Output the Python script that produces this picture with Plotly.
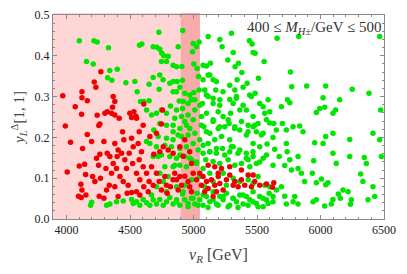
import plotly.graph_objects as go

# ---- data (v_R in GeV, y_L^Delta[1,1]) ----
red_x = [3970,3990,4031,4005,4068,4094,4115,4121,4121,4163,4118,4126,4163,4100,4142,4113,4121,4150,4152,
         4270,4218,4231,4241,4254,4262,4205,4223,4236,4252,4267,4257,4294,4262,4197,
         4302,4320,4354,4380,4367,4380,4362,4414,4294,4320,4341,4380,4406,4398,4367,4310,4354,4393,4420,
         4336,4380,4315,4406,4441,4451,4433,4459,4472,4446,4485,4477,4512,4498,4530,4512,4546,4512,4525,
         4493,4520,
         4551,4608,4603,4572,4564,4590,4572,4603,4630,4551,4577,4608,4551,4577,4643,4650,4669,4687,4656,
         4708,4755,4747,4761,4734,4708,4729,4747,4682,4774,4787,4792,4818,4839,4852,4866,4892,4905,4879,
         4931,4957,4970,4997,5023,4984,4800,4839,4892,4931,4970,4918,4984,
         5049,5075,5102,5062,5115,5141,5167,5194,5180,5207,5233,5220,5259,5285,5312,5325,5351,5377,5403,
         5430,5456,5482,5521,5574,5632,5621,5167,5115,5194,5285,5088,5154,5377,5469]
red_y = [0.302,0.228,0.188,0.115,0.275,0.056,0.053,0.312,0.297,0.290,0.257,0.173,0.207,0.130,0.134,0.085,0.071,0.109,0.059,
         0.361,0.336,0.323,0.254,0.229,0.233,0.104,0.092,0.149,0.132,0.100,0.056,0.051,0.159,0.190,
         0.259,0.263,0.259,0.255,0.300,0.288,0.274,0.247,0.190,0.161,0.153,0.185,0.169,0.153,0.136,0.124,0.112,0.124,0.104,
         0.083,0.079,0.071,0.055,0.214,0.194,0.161,0.145,0.124,0.092,0.083,0.063,0.065,0.259,0.263,0.249,0.252,0.198,0.177,
         0.161,0.136,
         0.247,0.282,0.230,0.214,0.185,0.165,0.145,0.128,0.112,0.112,0.096,0.079,0.067,0.059,0.067,0.092,0.128,0.159,0.202,
         0.210,0.267,0.233,0.177,0.165,0.112,0.092,0.071,0.083,0.104,0.083,0.063,0.079,0.096,0.112,0.096,0.104,0.083,0.071,
         0.105,0.092,0.079,0.112,0.096,0.067,0.169,0.161,0.177,0.194,0.165,0.154,0.136,
         0.112,0.104,0.092,0.083,0.075,0.096,0.083,0.104,0.067,0.087,0.071,0.124,0.096,0.108,0.083,0.092,0.079,0.096,0.083,
         0.108,0.079,0.092,0.083,0.086,0.089,0.078,0.128,0.132,0.112,0.128,0.067,0.055,0.120,0.108]

green_x = [4100,4215,4241,4157,4210,4330,4340,4399,4323,4357,4467,4538,4574,4593,4556,4582,4608,4650,
           4682,4711,4734,4750,4766,4727,4787,4747,4800,4682,4734,4650,4729,4760,4839,4866,4879,4915,4871,
           4887,4908,4997,5023,5044,4992,5002,4913,5028,5039,5002,5010,5044,5075,5102,5115,5133,5207,5225,
           5270,5298,5312,5327,5354,5380,5440,5461,5469,5485,5511,5556,5658,5773,5763,5739,5758,5828,5891,
           6020,6033,6041,6151,6250,6382,6466,6474,6466,6413,6479,6345,6361,6316,6334,6413,6427,6374,6230,
           6217,6236,6177,6140,6156,6059,6041,6007,5967,5936,5946,5954,6020,6041,6098,6098,6124,6230,6119,
           6098,5994,5967,5836,5862,5784,5731,5700,5692,5731,5737,5758,5823,5849,5875,5823,5771,5718,5674,
           5639,5626,5632,5574,5561,5600,5548,5587,5521,5485,5456,5422,5390,5343,5325,5285,5291,5312,5338,
           5364,5416,5469,5430,5469,5508,5495,5548,5579,5521,5469,5416,5364,5325,5280,5246,5233,5194,5207,
           5175,5154,5115,5075,5088,5115,5154,5070,5102,5062,5154,5194,5128,5081,5049,5115,5167,5220,5285,
           5312,5364,5416,5469,5285,5228,5180,5128,5075,5036,5096,5154,5207,5272,5325,5377,5443,5495,5548,5430,
           4813,4839,4892,4931,4957,4984,4913,4866,4818,4787,4747,4708,4669,4630,4852,4905,4957,5010,4997,
           4944,4892,4839,4787,4734,4687,4721,4787,4839,4905,4957,5010,4997,4944,4892,4826,4774,4708,4656,
           4630,4682,4747,4813,4866,4931,4984,5023,4944,4892,4839,4774,4721,
           4189,4197,4315,4341,4393,4446,4512,4525,4551,4577,4603,4630,4656,4682,4708,4734,4761,4787,4813,
           4839,4866,4892,4913,4931,4957,4984,5010,5028,5049,5075,5102,5128,5154,5180,5207,5233,5259,5285,
           5312,5338,5364,5390,5416,5443,5469,5495,5521,5548,5574,5595,5626,5718,5731,5784,5797,5823,5941,
           5967,6033,6085,6098,6243,
           5088,5154,5259,5364,5469,5561,5653,5692,5600,5508,5430,5312,5233,5128,5049,4984,4931,4866,4787,
           4708,4669,4734,4800,4761,
           4839,4878,4931,4970,5062,5102,5154,5206,5272,5324,5377,5429,5482,5534,5600,5652,
           5075,5128,5180,5246,5298,5350,5416,5468,5521,5574,5626,5023,4970,4892,4852,5075,
           4918,4996,5075,5154,5232,5311,5390,5468,5547,5626,4866,4957,5035,5114,5193,5272,5350,5429,5508,5587,
           5128,5180,5232,5285,5337,5390,5442,5206,5154,5101,5049,4970,4918,4866,4839]
green_y = [0.437,0.437,0.434,0.386,0.380,0.420,0.364,0.367,0.346,0.340,0.334,0.337,0.426,0.429,0.312,0.288,0.288,0.290,
           0.422,0.421,0.416,0.406,0.400,0.458,0.386,0.386,0.399,0.347,0.353,0.330,0.318,0.341,0.377,0.373,0.422,0.462,0.337,
           0.289,0.374,0.430,0.422,0.434,0.410,0.380,0.340,0.369,0.349,0.310,0.292,0.316,0.377,0.375,0.447,0.382,0.440,0.422,
           0.390,0.455,0.408,0.373,0.382,0.359,0.437,0.429,0.408,0.406,0.345,0.386,0.443,0.324,0.360,0.292,0.285,0.447,0.326,
           0.297,0.274,0.326,0.292,0.318,0.308,0.447,0.267,0.194,0.210,0.153,0.151,0.136,0.110,0.092,0.079,0.055,0.047,0.153,
           0.067,0.036,0.071,0.061,0.051,0.089,0.084,0.098,0.089,0.112,0.143,0.187,0.185,0.202,0.210,0.161,0.136,0.195,0.267,
           0.259,0.271,0.261,0.228,0.214,0.226,0.218,0.234,0.275,0.185,0.165,0.145,0.124,0.112,0.092,0.153,0.120,0.131,0.153,
           0.171,0.200,0.234,0.243,0.259,0.263,0.275,0.292,0.283,0.308,0.300,0.333,0.323,0.341,0.316,0.293,0.259,0.283,0.300,
           0.267,0.267,0.251,0.230,0.226,0.234,0.214,0.210,0.184,0.177,0.185,0.206,0.218,0.226,0.234,0.226,0.251,0.263,0.292,
           0.316,0.341,0.353,0.341,0.316,0.300,0.283,0.283,0.259,0.251,0.243,0.222,0.210,0.226,0.194,0.185,0.194,0.202,0.194,
           0.177,0.169,0.161,0.153,0.165,0.173,0.161,0.165,0.161,0.169,0.145,0.141,0.136,0.145,0.132,0.136,0.128,0.136,0.149,0.145,
           0.333,0.312,0.323,0.308,0.283,0.292,0.271,0.267,0.277,0.259,0.267,0.259,0.255,0.267,0.247,0.251,0.255,0.267,0.243,
           0.230,0.222,0.214,0.230,0.234,0.218,0.202,0.198,0.194,0.202,0.206,0.210,0.185,0.177,0.173,0.177,0.181,0.177,0.185,
           0.190,0.153,0.157,0.153,0.149,0.153,0.145,0.136,0.128,0.132,0.128,0.128,0.153,
           0.034,0.041,0.034,0.037,0.042,0.044,0.048,0.038,0.042,0.034,0.048,0.040,0.034,0.047,0.037,0.048,0.034,0.042,0.053,
           0.037,0.047,0.034,0.061,0.047,0.038,0.051,0.037,0.063,0.047,0.034,0.055,0.042,0.067,0.037,0.055,0.047,0.063,0.034,
           0.051,0.042,0.059,0.037,0.055,0.047,0.067,0.038,0.055,0.030,0.047,0.063,0.042,0.056,0.037,0.042,0.055,0.037,0.042,
           0.047,0.032,0.037,0.048,0.047,
           0.079,0.092,0.083,0.092,0.087,0.083,0.071,0.079,0.079,0.104,0.096,0.100,0.112,0.112,0.104,0.096,0.083,0.079,0.067,
           0.079,0.059,0.112,0.104,0.092,
           0.230,0.206,0.239,0.222,0.230,0.214,0.239,0.226,0.243,0.222,0.239,0.214,0.230,0.206,0.235,0.218,
           0.181,0.165,0.173,0.157,0.177,0.161,0.149,0.165,0.140,0.157,0.132,0.140,0.149,0.157,0.132,0.124,
           0.067,0.051,0.059,0.047,0.055,0.051,0.059,0.042,0.051,0.055,0.042,0.030,0.034,0.028,0.034,0.030,0.028,0.034,0.030,0.038,
           0.353,0.337,0.312,0.328,0.296,0.279,0.304,0.279,0.296,0.304,0.279,0.304,0.288,0.312,0.337]

x_ticks = [4000, 4500, 5000, 5500, 6000, 6500]
y_ticks = [0.0, 0.1, 0.2, 0.3, 0.4, 0.5]
x_range = [3893, 6500]
y_range = [0.0, 0.5]
light_band = [3893, 5050]
dark_band = [4900, 5050]

FONT = "Liberation Serif, Times New Roman, serif"

fig = go.Figure()
fig.add_trace(go.Scatter(x=green_x, y=green_y, mode="markers",
                         marker=dict(color="#00e600", size=5.5, line=dict(width=0)),
                         showlegend=False, hoverinfo="skip"))
fig.add_trace(go.Scatter(x=red_x, y=red_y, mode="markers",
                         marker=dict(color="#f00000", size=5.5, line=dict(width=0)),
                         showlegend=False, hoverinfo="skip"))

fig.add_shape(type="rect", xref="x", yref="paper", x0=light_band[0], x1=light_band[1],
              y0=0, y1=1.01, fillcolor="#ffd6d6", line=dict(width=0), layer="below")
fig.add_shape(type="rect", xref="x", yref="paper", x0=dark_band[0], x1=dark_band[1],
              y0=0, y1=1.01, fillcolor="#f9abab", line=dict(width=0), layer="below")

fig.add_annotation(xref="paper", yref="paper", x=1.0, y=0.99, xanchor="right", yanchor="top",
                   text="400 ≤ <i>M</i><sub><i>H</i>±</sub>/GeV ≤ 500",
                   showarrow=False, font=dict(family=FONT, size=15, color="#333333"))

axis_common = dict(showline=True, linecolor="#888888", linewidth=1, mirror="ticks",
                   ticks="inside", ticklen=4, tickcolor="#888888", showgrid=False, zeroline=False,
                   automargin=False,
                   tickfont=dict(family=FONT, size=12, color="#222222"))

fig.update_xaxes(range=x_range, tickvals=x_ticks, ticktext=[str(v) for v in x_ticks],
                 minor=dict(ticks="inside", ticklen=2, dtick=100, tickcolor="#888888"),
                 title=dict(text="<i>v</i><sub><i>R</i></sub> [GeV]", font=dict(family=FONT, size=16, color="#444444"),
                            standoff=12),
                 **axis_common)
fig.update_yaxes(range=y_range, tickvals=y_ticks, ticktext=[f"{v:.1f}" for v in y_ticks],
                 minor=dict(ticks="inside", ticklen=2, dtick=0.02, tickcolor="#888888"),
                 title=dict(text="<i>y</i><sub><i>L</i></sub><sup>Δ</sup>[1, 1]", font=dict(family=FONT, size=15, color="#444444"),
                            standoff=6),
                 **axis_common)

# page body has an 8px margin, so the figure is drawn 16px smaller and offset
fig.update_layout(width=391, height=258, margin=dict(l=45, r=15, t=7, b=47),
                  paper_bgcolor="white", plot_bgcolor="white")

fig.write_html("out.html")
